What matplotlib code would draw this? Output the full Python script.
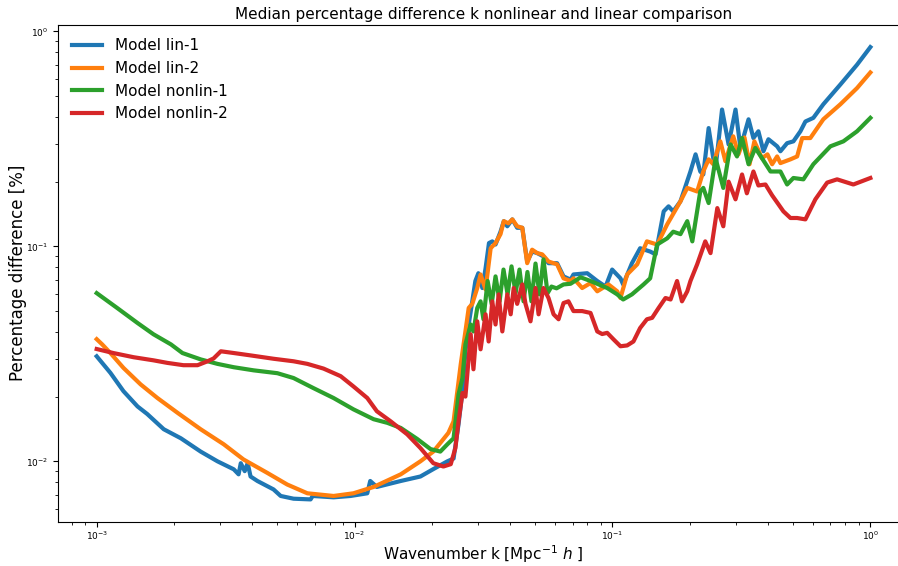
import numpy as np
import matplotlib
matplotlib.use('Agg')
import matplotlib.pyplot as plt

# median percentage difference vs wavenumber, one curve per model
k_lin1 = [0.001, 0.00113, 0.00127, 0.00144, 0.00157, 0.00182, 0.00212, 0.00253, 0.00294,
          0.0034, 0.00355, 0.00362, 0.00375, 0.00385, 0.00395, 0.0042, 0.00485, 0.00517,
          0.0058, 0.00675, 0.00688, 0.00829, 0.00965, 0.0112, 0.0115, 0.0122, 0.0151,
          0.018, 0.0202, 0.0229, 0.0242, 0.0253, 0.0262, 0.0269, 0.0277, 0.0286, 0.0294,
          0.0302, 0.0313, 0.0322, 0.0332, 0.0342, 0.0352, 0.0368, 0.0379, 0.0391, 0.0409,
          0.0427, 0.0447, 0.0467, 0.0488, 0.0511, 0.054, 0.0565, 0.061, 0.0646, 0.0688,
          0.0706, 0.0798, 0.0873, 0.094, 0.0997, 0.1074, 0.110, 0.119, 0.128, 0.140, 0.147,
          0.158, 0.165, 0.172, 0.1835, 0.2006, 0.21, 0.219, 0.225, 0.236, 0.246, 0.251,
          0.266, 0.282, 0.300, 0.3135, 0.337, 0.352, 0.368, 0.385, 0.4025, 0.435, 0.448,
          0.4755, 0.503, 0.5355, 0.56, 0.601, 0.657, 0.765, 0.888, 1.0]
pct_lin1 = [0.0308, 0.0258, 0.0212, 0.018, 0.0166, 0.0141, 0.0128, 0.0111, 0.0100,
            0.00918, 0.0087, 0.0098, 0.0090, 0.0098, 0.0085, 0.0081, 0.0074, 0.0069,
            0.0067, 0.00665, 0.0069, 0.0068, 0.0069, 0.0071, 0.0081, 0.0076, 0.0081,
            0.0085, 0.0092, 0.0100, 0.0103, 0.0149, 0.0212, 0.0325, 0.0433, 0.0555, 0.069,
            0.075, 0.064, 0.079, 0.1036, 0.1055, 0.102, 0.117, 0.131, 0.124, 0.1335,
            0.122, 0.122, 0.085, 0.0946, 0.093, 0.0898, 0.0835, 0.0835, 0.0725, 0.070,
            0.074, 0.075, 0.069, 0.065, 0.078, 0.071, 0.0665, 0.0835, 0.098, 0.0946, 0.0918,
            0.1455, 0.1535, 0.1455, 0.162, 0.223, 0.268, 0.223, 0.216, 0.355, 0.257, 0.231,
            0.433, 0.298, 0.433, 0.287, 0.39, 0.319, 0.343, 0.277, 0.315, 0.292, 0.277,
            0.302, 0.308, 0.343, 0.381, 0.396, 0.458, 0.566, 0.70, 0.845]

k_lin2 = [0.001, 0.00105, 0.00113, 0.00127, 0.00148, 0.00172, 0.00206, 0.00253, 0.00311,
          0.00371, 0.00459, 0.00548, 0.00656, 0.00829, 0.0099, 0.01185, 0.0151, 0.018,
          0.0202, 0.0231, 0.0242, 0.0258, 0.0269, 0.0277, 0.0286, 0.0299, 0.0308, 0.0322,
          0.0337, 0.0352, 0.0368, 0.0379, 0.0395, 0.0409, 0.0427, 0.0447, 0.0467, 0.0488,
          0.0511, 0.0534, 0.0565, 0.061, 0.0646, 0.0688, 0.0706, 0.0763, 0.0822, 0.0873,
          0.0965, 0.1043, 0.1074, 0.114, 0.1247, 0.136, 0.149, 0.163, 0.1835, 0.195, 0.213,
          0.225, 0.236, 0.246, 0.262, 0.274, 0.294, 0.308, 0.325, 0.340, 0.355, 0.380,
          0.399, 0.416, 0.435, 0.448, 0.49, 0.52, 0.544, 0.585, 0.657, 0.765, 0.888, 1.0]
pct_lin2 = [0.037, 0.035, 0.0319, 0.0272, 0.0228, 0.0197, 0.0168, 0.0141, 0.012,
            0.0102, 0.00883, 0.0078, 0.0071, 0.0069, 0.0071, 0.0076, 0.0087, 0.0100,
            0.0111, 0.01355, 0.01535, 0.0283, 0.0402, 0.0517, 0.054, 0.064, 0.074, 0.063,
            0.098, 0.1036, 0.114, 0.131, 0.128, 0.1335, 0.124, 0.122, 0.0835, 0.0965,
            0.093, 0.0918, 0.085, 0.0825, 0.071, 0.069, 0.071, 0.064, 0.0675, 0.0618,
            0.0665, 0.0618, 0.0575, 0.074, 0.0825, 0.1055, 0.102, 0.1266, 0.162, 0.187, 0.180,
            0.223, 0.254, 0.241, 0.308, 0.249, 0.325, 0.268, 0.321, 0.241, 0.308, 0.257,
            0.268, 0.241, 0.262, 0.244, 0.254, 0.262, 0.319, 0.319, 0.39, 0.458, 0.545, 0.644]

k_nonlin1 = [0.001, 0.0012, 0.00144, 0.00166, 0.00194, 0.00215, 0.00253, 0.00294, 0.0034,
             0.00406, 0.00502, 0.0058, 0.00693, 0.00829, 0.0099, 0.01185, 0.0134, 0.0151,
             0.0175, 0.0197, 0.0215, 0.0229, 0.0242, 0.0253, 0.0262, 0.0269, 0.0282, 0.0289,
             0.0299, 0.0308, 0.0316, 0.0328, 0.034, 0.0352, 0.0365, 0.0378, 0.0392, 0.0406,
             0.0421, 0.0436, 0.0452, 0.0468, 0.0485, 0.0503, 0.0521, 0.054, 0.056, 0.058,
             0.0607, 0.0646, 0.0688, 0.0752, 0.0822, 0.0954, 0.1043, 0.110, 0.119, 0.132,
             0.140, 0.149, 0.163, 0.172, 0.1835, 0.195, 0.204, 0.219, 0.225, 0.236, 0.251,
             0.269, 0.287, 0.304, 0.318, 0.337, 0.358, 0.380, 0.41, 0.448, 0.4755, 0.503,
             0.55, 0.601, 0.70, 0.786, 0.888, 1.0]
pct_nonlin1 = [0.0606, 0.0517, 0.044, 0.039, 0.035, 0.0319, 0.0298, 0.0284, 0.0274,
               0.0265, 0.0257, 0.0244, 0.0219, 0.0197, 0.01745, 0.0157, 0.0151, 0.0143,
               0.0127, 0.0114, 0.0111, 0.012, 0.0128, 0.0205, 0.0244, 0.035, 0.0433, 0.0402,
               0.0517, 0.0555, 0.0458, 0.069, 0.054, 0.0725, 0.0555, 0.078, 0.0598, 0.0807,
               0.0605, 0.078, 0.0555, 0.076, 0.0555, 0.0832, 0.0598, 0.087, 0.0605, 0.065,
               0.0638, 0.0665, 0.067, 0.0718, 0.069, 0.064, 0.0598, 0.0566, 0.0598, 0.0665,
               0.071, 0.102, 0.109, 0.117, 0.114, 0.131, 0.1055, 0.180, 0.187, 0.159, 0.257,
               0.187, 0.298, 0.262, 0.319, 0.241, 0.287, 0.257, 0.223, 0.223, 0.194, 0.208,
               0.205, 0.241, 0.292, 0.308, 0.343, 0.396]

k_nonlin2 = [0.001, 0.00116, 0.00139, 0.00166, 0.00188, 0.00217, 0.00246, 0.00269, 0.00284,
             0.00303, 0.0034, 0.00395, 0.00485, 0.0058, 0.00656, 0.00758, 0.00883, 0.0099,
             0.0112, 0.0122, 0.0138, 0.016, 0.018, 0.0202, 0.0221, 0.0236, 0.0246, 0.0253,
             0.0262, 0.0269, 0.0282, 0.0289, 0.0299, 0.0308, 0.0322, 0.0331, 0.0342, 0.0352,
             0.0362, 0.0374, 0.0391, 0.0403, 0.0414, 0.0427, 0.0447, 0.046, 0.0481, 0.0503,
             0.0517, 0.054, 0.0565, 0.0591, 0.0618, 0.0646, 0.0675, 0.0706, 0.0763, 0.0822,
             0.0873, 0.0912, 0.0954, 0.101, 0.1074, 0.114, 0.1206, 0.128, 0.136, 0.1425,
             0.151, 0.1605, 0.168, 0.178, 0.186, 0.195, 0.2006, 0.213, 0.229, 0.240, 0.255,
             0.269, 0.282, 0.300, 0.318, 0.332, 0.352, 0.368, 0.392, 0.416, 0.44, 0.46, 0.49,
             0.52, 0.56, 0.612, 0.68, 0.743, 0.859, 1.0]
pct_nonlin2 = [0.0333, 0.0319, 0.0305, 0.0295, 0.0287, 0.028, 0.028, 0.0292, 0.0301,
               0.0325, 0.0319, 0.0311, 0.030, 0.0292, 0.0284, 0.027, 0.0249, 0.0223,
               0.0197, 0.0171, 0.01535, 0.01335, 0.01153, 0.0098, 0.00946, 0.0097, 0.01153,
               0.01535, 0.0208, 0.020, 0.039, 0.0268, 0.0448, 0.0332, 0.0483, 0.0361, 0.0555,
               0.0433, 0.0598, 0.0402, 0.0598, 0.0483, 0.064, 0.054, 0.0665, 0.054, 0.0448,
               0.064, 0.0483, 0.064, 0.0575, 0.0483, 0.0458, 0.0545, 0.0555, 0.050, 0.050,
               0.049, 0.0402, 0.0391, 0.0396, 0.0369, 0.0343, 0.0346, 0.0361, 0.0417, 0.0458,
               0.0465, 0.0517, 0.0575, 0.0566, 0.069, 0.0555, 0.0618, 0.069, 0.0825, 0.1055,
               0.093, 0.1507, 0.124, 0.20, 0.1655, 0.216, 0.1765, 0.223, 0.192, 0.194, 0.1727,
               0.157, 0.1455, 0.1355, 0.1355, 0.1335, 0.1655, 0.198, 0.205, 0.194, 0.208]

series = [(k_lin1, pct_lin1, 'Model lin-1'),
          (k_lin2, pct_lin2, 'Model lin-2'),
          (k_nonlin1, pct_nonlin1, 'Model nonlin-1'),
          (k_nonlin2, pct_nonlin2, 'Model nonlin-2')]

fig = plt.figure(figsize=(8.98, 5.66), dpi=100)
ax = fig.add_axes([0.0646, 0.0777, 0.9477, 0.879])

for k, pct, name in series:
    ax.plot(k, pct, lw=3, label=name)

ax.set_xscale('log')
ax.set_yscale('log')
ax.tick_params(which='both', labelsize=6.5)
ax.tick_params(axis='x', which='both', pad=2)
ax.set_title('Median percentage difference k nonlinear and linear comparison',
             fontsize=11, pad=4)
ax.set_xlabel(r'Wavenumber k [Mpc$^{-1}$ $h$ ]', fontsize=11, labelpad=1)
ax.set_ylabel('Percentage difference [%]', fontsize=12, labelpad=-1)
ax.legend(loc='upper left', fontsize=11, frameon=False)

fig.savefig('out.png', dpi=100)
